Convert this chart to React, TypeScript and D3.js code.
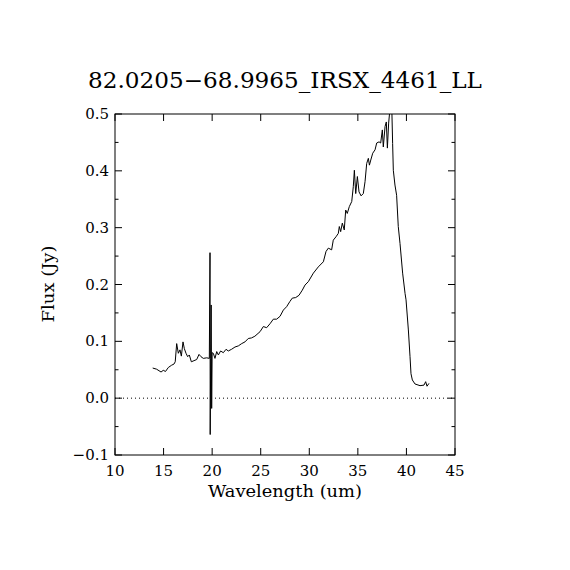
import React from "react";
import * as d3 from "d3";

// wavelength (um) and flux (Jy)
const wavelength = [
  13.88, 14.28, 14.74, 14.97, 15.2, 15.49, 15.83, 16.07, 16.2, 16.35, 16.52,
  16.69, 16.83, 17.0, 17.14, 17.31, 17.48, 17.65, 17.86, 18.13, 18.41, 18.65,
  18.85, 19.09, 19.44, 19.71, 19.78, 19.8, 19.85, 19.9, 19.95, 20.0, 20.12,
  20.29, 20.47, 20.64, 20.87, 21.15, 21.43, 21.66, 22.0, 22.35, 22.7, 23.04,
  23.38, 23.72, 24.05, 24.4, 24.93, 25.27, 25.61, 25.96, 26.3, 26.64, 26.99,
  27.33, 27.67, 28.0, 28.25, 28.6, 28.94, 29.28, 29.56, 29.9, 30.42, 30.93,
  31.45, 31.72, 31.96, 32.3, 32.47, 32.75, 32.99, 33.09, 33.23, 33.4, 33.6,
  33.75, 33.91, 34.12, 34.37, 34.53, 34.64, 34.78, 34.95, 35.12, 35.33, 35.56,
  35.74, 35.91, 36.08, 36.19, 36.33, 36.53, 36.77, 36.94, 37.18, 37.35, 37.52,
  37.62, 37.8, 37.93, 38.04, 38.17, 38.31, 38.48, 38.58, 38.65, 38.82, 38.99,
  39.16, 39.34, 39.61, 39.86, 39.96, 40.2, 40.37, 40.47, 40.61, 40.88, 41.4,
  41.81, 41.98, 42.12, 42.32,
];
const flux = [
  0.053, 0.051, 0.046, 0.049, 0.047, 0.054, 0.058, 0.06, 0.064, 0.096, 0.079,
  0.085, 0.074, 0.099, 0.087, 0.079, 0.073, 0.076, 0.064, 0.066, 0.068, 0.077,
  0.073, 0.07, 0.071, 0.07, 0.256, -0.064, 0.07, 0.164, -0.018, 0.08, 0.079,
  0.07, 0.082, 0.076, 0.083, 0.08, 0.086, 0.083, 0.086, 0.09, 0.092, 0.096,
  0.099, 0.105, 0.106, 0.109, 0.117, 0.126, 0.124, 0.131, 0.139, 0.139, 0.144,
  0.155, 0.161, 0.17, 0.176, 0.177, 0.181, 0.19, 0.199, 0.205, 0.22, 0.231,
  0.24, 0.258, 0.264, 0.261, 0.278, 0.284, 0.29, 0.302, 0.293, 0.308, 0.296,
  0.331, 0.325, 0.337, 0.346, 0.372, 0.401, 0.36, 0.39, 0.363, 0.356, 0.36,
  0.381, 0.413, 0.422, 0.41, 0.419, 0.431, 0.437, 0.449, 0.451, 0.449, 0.472,
  0.442, 0.478, 0.486, 0.44, 0.484, 0.51, 0.52, 0.448, 0.401, 0.375, 0.357,
  0.302, 0.272, 0.22, 0.184, 0.173, 0.12, 0.073, 0.043, 0.032, 0.025, 0.022,
  0.023, 0.029, 0.021, 0.026,
];

const xTicks = [10, 15, 20, 25, 30, 35, 40, 45];
const yTicks = [-0.1, 0, 0.1, 0.2, 0.3, 0.4, 0.5];
const yMinor = [-0.05, 0.05, 0.15, 0.25, 0.35, 0.45];

const title = "82.0205\u221268.9965_IRSX_4461_LL";

const W = 570;
const H = 570;
const left = 115;
const right = 455;
const top = 114;
const bottom = 455;
const font = "'DejaVu Serif', 'Liberation Serif', serif";

export default function App() {
  const x = d3.scaleLinear().domain([10, 45]).range([left, right]);
  const y = d3.scaleLinear().domain([-0.1, 0.5]).range([bottom, top]);

  const pts: [number, number][] = wavelength.map((w, i) => [w, flux[i]]);
  const line = d3
    .line<[number, number]>()
    .x((d) => x(d[0]))
    .y((d) => y(d[1]));

  const fmtY = (v: number) =>
    v < 0 ? "\u2212" + Math.abs(v).toFixed(1) : v.toFixed(1);

  return (
    <svg
      width={W}
      height={H}
      style={{ position: "absolute", left: 0, top: 0, background: "#fff" }}
    >
      <defs>
        <clipPath id="plot">
          <rect x={left} y={top} width={right - left} height={bottom - top} />
        </clipPath>
      </defs>

      {/* zero line */}
      <line
        x1={left}
        x2={right}
        y1={y(0)}
        y2={y(0)}
        stroke="#000"
        strokeWidth={1}
        strokeDasharray="1,3"
      />

      <path
        d={line(pts) ?? ""}
        fill="none"
        stroke="#000"
        strokeWidth={1}
        clipPath="url(#plot)"
      />

      {/* frame */}
      <rect
        x={left}
        y={top}
        width={right - left}
        height={bottom - top}
        fill="none"
        stroke="#000"
        strokeWidth={1}
      />

      {/* x ticks */}
      {xTicks.map((t) => (
        <g key={"x" + t}>
          <line x1={x(t)} x2={x(t)} y1={bottom} y2={bottom - 7} stroke="#000" />
          <line x1={x(t)} x2={x(t)} y1={top} y2={top + 7} stroke="#000" />
          <text
            x={x(t)}
            y={bottom + 21}
            textAnchor="middle"
            fontFamily={font}
            fontSize={15}
          >
            {t}
          </text>
        </g>
      ))}

      {/* y ticks */}
      {yTicks.map((t) => (
        <g key={"y" + t}>
          <line x1={left} x2={left + 7} y1={y(t)} y2={y(t)} stroke="#000" />
          <line x1={right} x2={right - 7} y1={y(t)} y2={y(t)} stroke="#000" />
          <text
            x={left - 6}
            y={y(t) + 5}
            textAnchor="end"
            fontFamily={font}
            fontSize={15}
          >
            {fmtY(t)}
          </text>
        </g>
      ))}
      {yMinor.map((t) => (
        <g key={"m" + t}>
          <line x1={left} x2={left + 3.5} y1={y(t)} y2={y(t)} stroke="#000" />
          <line x1={right} x2={right - 3.5} y1={y(t)} y2={y(t)} stroke="#000" />
        </g>
      ))}

      <text
        x={(left + right) / 2}
        y={88}
        textAnchor="middle"
        fontFamily={font}
        fontSize={22}
        textLength={394}
        lengthAdjust="spacingAndGlyphs"
      >
        {title}
      </text>
      <text
        x={(left + right) / 2}
        y={497}
        textAnchor="middle"
        fontFamily={font}
        fontSize={17}
        textLength={154}
        lengthAdjust="spacingAndGlyphs"
      >
        Wavelength (um)
      </text>
      <text
        transform={`translate(54,284) rotate(-90)`}
        textAnchor="middle"
        fontFamily={font}
        fontSize={17}
        textLength={77}
        lengthAdjust="spacingAndGlyphs"
      >
        Flux (Jy)
      </text>
    </svg>
  );
}
